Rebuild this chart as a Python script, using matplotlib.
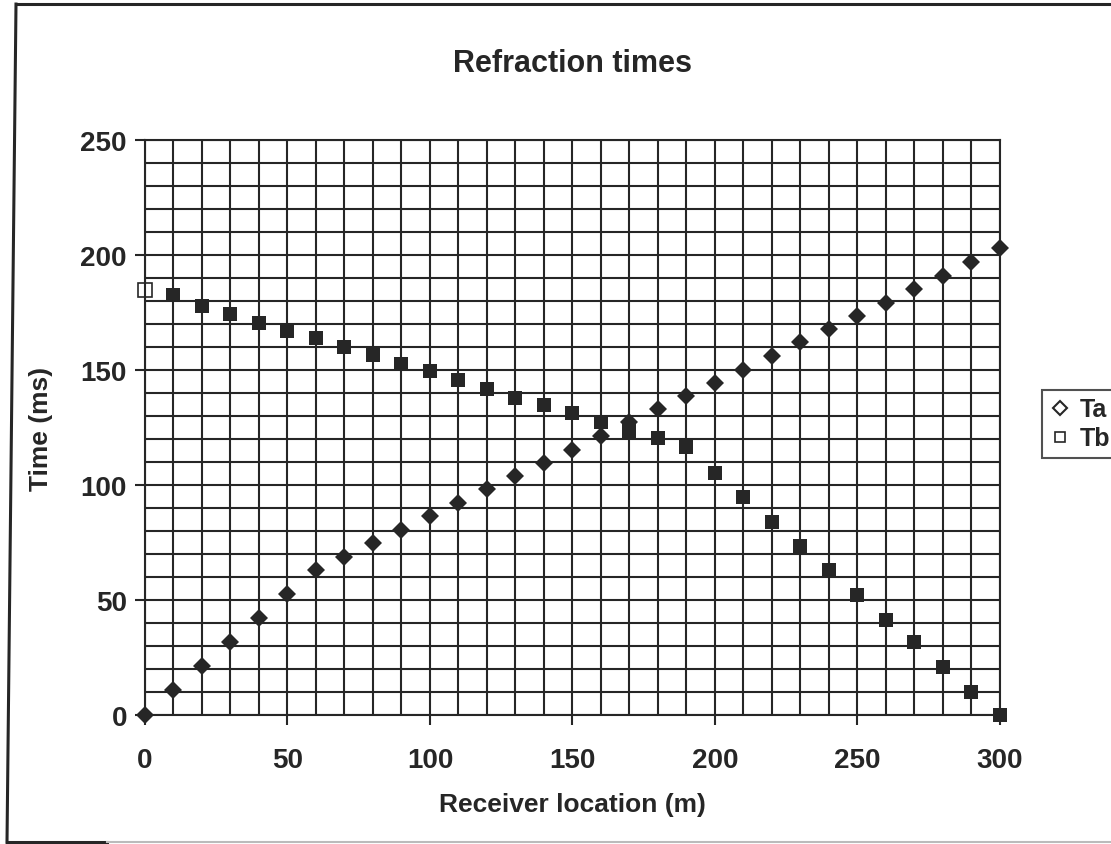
import matplotlib.pyplot as plt
from matplotlib.lines import Line2D
from matplotlib.ticker import MultipleLocator

#-------------------------------------------------------------------------------
# values
x_loc = [0, 10, 20, 30, 40, 50, 60, 70, 80, 90, 100, 110, 120, 130, 140, 150,
         160, 170, 180, 190, 200, 210, 220, 230, 240, 250, 260, 270, 280, 290, 300]

ta = [0, 11, 21.2, 31.6, 42.2, 52.5, 63, 68.9, 74.7, 80.6, 86.4, 92.3, 98.1, 104,
      109.4, 115.2, 121.5, 127.2, 133, 138.8, 144.3, 150.2, 156, 162, 167.8, 173.6,
      179, 185.2, 191, 197, 203]

tb = [185, 182.7, 178, 174.3, 170.4, 167.1, 163.8, 159.9, 156.5, 152.5, 149.5,
      145.8, 141.6, 137.8, 134.8, 131.2, 127.2, 123.6, 120.3, 116.7, 105, 94.6,
      84, 73.5, 63, 52.3, 41.4, 31.6, 21, 10.1, 0]

#-------------------------------------------------------------------------------
plt.rcParams['font.family'] = ['Liberation Sans', 'DejaVu Sans']
plt.rcParams['font.weight'] = 'bold'
ink = '#262626'

fig = plt.figure(figsize=(11.11, 8.45), dpi=100)
ax = fig.add_axes([0.1305, 0.1527, 0.7695, 0.6804])

ax.set_xlim(0, 300)
ax.set_ylim(0, 250)
ax.xaxis.set_major_locator(MultipleLocator(50))
ax.xaxis.set_minor_locator(MultipleLocator(10))
ax.yaxis.set_major_locator(MultipleLocator(50))
ax.yaxis.set_minor_locator(MultipleLocator(10))
ax.grid(True, which='both', color=ink, linewidth=1.5)
ax.set_axisbelow(True)
ax.tick_params(which='major', length=7, width=1.5, color=ink, labelsize=20,
               labelcolor=ink)
ax.tick_params(axis='x', pad=16)
ax.tick_params(axis='y', pad=6)
ax.tick_params(which='minor', length=0)
for s in ax.spines.values():
    s.set_color(ink)
    s.set_linewidth(1.5)

ax.plot(x_loc, ta, 'D', color=ink, markersize=9, markeredgewidth=0, zorder=3,
        clip_on=False)
ax.plot(x_loc[1:], tb[1:], 's', color=ink, markersize=10, markeredgewidth=0, zorder=3,
        clip_on=False)
# first Tb point sits on the axis edge and shows up only as an outline
ax.plot(x_loc[:1], tb[:1], 's', mfc='white', mec=ink, markersize=10,
        markeredgewidth=1.2, zorder=2, clip_on=False)

ax.set_title('Refraction times', fontsize=22, fontweight='bold', color=ink, pad=50)
ax.set_xlabel('Receiver location (m)', fontsize=19, fontweight='bold', color=ink, labelpad=14)
ax.set_ylabel('Time (ms)', fontsize=19, fontweight='bold', color=ink, labelpad=20)

handles = [Line2D([], [], ls='none', marker='D', mfc='white', mec=ink, ms=7, mew=1.5),
           Line2D([], [], ls='none', marker='s', mfc='white', mec=ink, ms=7, mew=1.2)]
leg = fig.legend(handles, ['Ta', 'Tb'], loc='upper left',
                 bbox_to_anchor=(1042 / 1111, 1 - 391 / 845), fontsize=18,
                 frameon=True, fancybox=False, borderpad=0.3, handlelength=0.8,
                 handletextpad=0.4, labelspacing=0.2, borderaxespad=0)
leg.get_frame().set_edgecolor(ink)
leg.get_frame().set_linewidth(1.5)
for t in leg.get_texts():
    t.set_color(ink)

# outer chart frame (right side is off the scan)
fig.add_artist(Line2D([0.0144, 1.0], [0.994, 0.994], color=ink, lw=2.2))
fig.add_artist(Line2D([0.0144, 0.0063], [0.994, 0.002], color=ink, lw=2.2))
fig.add_artist(Line2D([0.0063, 0.096], [0.002, 0.002], color=ink, lw=2.2))
fig.add_artist(Line2D([0.096, 1.0], [0.002, 0.002], color='#bbbbbb', lw=1.5))

fig.savefig('out.png', dpi=100)
